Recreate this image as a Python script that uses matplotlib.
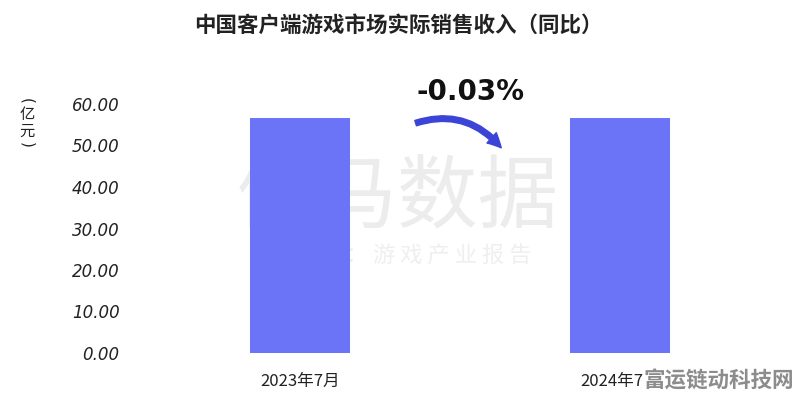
import matplotlib
matplotlib.use("Agg")
import matplotlib.pyplot as plt
from matplotlib.patches import FancyArrowPatch

plt.rcParams['font.family'] = ['Noto Sans CJK SC', 'DejaVu Sans']

categories = ["2023年7月", "2024年7月"]
values = [56.62, 56.60]
yticks = [0, 10, 20, 30, 40, 50, 60]
title = "中国客户端游戏市场实际销售收入（同比）"
change_label = "-0.03%"
bar_color = "#6b73f6"

fig = plt.figure(figsize=(7.96, 3.96), dpi=100)
ax = fig.add_axes([200/796, 43/396, 520/796, 249/396])
ax.patch.set_alpha(0)
ax.set_zorder(1)
x = list(range(len(categories)))
ax.bar(x, values, width=100/320, color=bar_color, zorder=3)
ax.set_xlim(-100/320, 1 + 100/320)
ax.set_ylim(0, 60)
ax.set_yticks(yticks)
ax.set_yticklabels([f"{v:.2f}" for v in yticks], fontsize=12, style='italic',
                   family=['DejaVu Sans'], color='#222222')
ax.set_xticks(x)
ax.set_xticklabels(categories, fontsize=12, color='#222222', fontweight='medium')
ax.tick_params(axis='y', length=0, pad=58)
ax.tick_params(axis='x', length=0, pad=14)
for s in ax.spines.values():
    s.set_visible(False)

fig.text(0.5, 1 - 25/396, title, ha='center', va='center', fontsize=15.5,
         fontweight='bold', color='#222222')
# vertical unit label (亿元)
fig.text(27/796, 1 - 101/396, "(", ha='center', va='center', rotation=-90,
         fontsize=11, color='#222222', family=['DejaVu Sans'])
fig.text(27/796, 1 - 115/396, "亿", ha='center', va='center', fontsize=11, color='#222222')
fig.text(27/796, 1 - 131/396, "元", ha='center', va='center', fontsize=11, color='#222222')
fig.text(27/796, 1 - 145/396, ")", ha='center', va='center', rotation=-90,
         fontsize=11, color='#222222', family=['DejaVu Sans'])

# watermark (behind bars)
fig.text(398/796, 1 - 198/396, "伽马数据", ha='center', va='center', fontsize=58,
         color='#ececec', zorder=0)
fig.text(398/796, 1 - 256/396, "微 信 号 ： 游 戏 产 业 报 告", ha='center', va='center',
         fontsize=16, color='#efefef', zorder=0)

# change annotation
ax.annotate(change_label, xy=(0.5 + 10/320, 63), xycoords='data', ha='center', va='center',
            fontsize=20, fontweight='bold', color='#111111', annotation_clip=False,
            family=['DejaVu Sans'], zorder=6)
arrow = FancyArrowPatch((413/796, 1 - 124/396), (503/796, 1 - 150/396),
                        transform=fig.transFigure,
                        connectionstyle="arc3,rad=-0.35",
                        arrowstyle="simple,head_width=10,head_length=10,tail_width=4",
                        color='#3c44d8', zorder=5)
fig.patches.append(arrow)

fig.text(1 - 2/796, 1 - 381/396, "富运链动科技网", ha='right', va='center',
         fontsize=15.5, fontweight='bold', color='#8c8c8c', zorder=10,
         bbox=dict(facecolor='white', edgecolor='none', pad=0.5))

fig.savefig("out.png", dpi=100)
